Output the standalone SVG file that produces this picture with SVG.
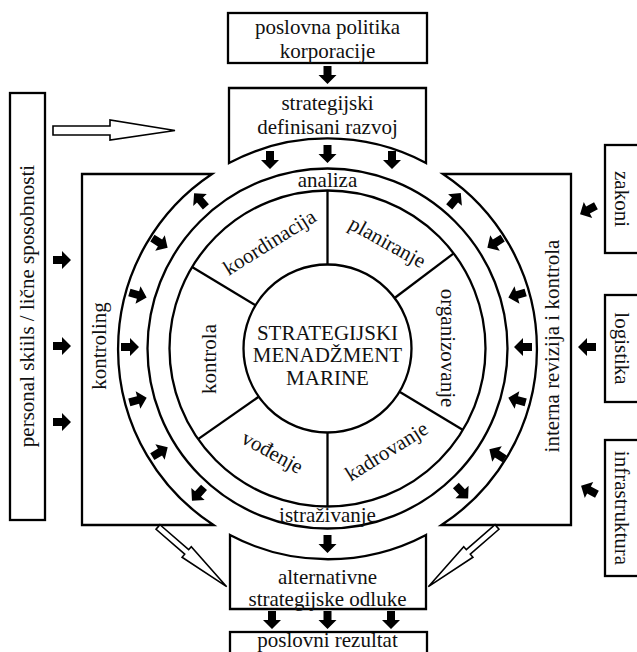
<svg xmlns="http://www.w3.org/2000/svg" xmlns:xlink="http://www.w3.org/1999/xlink" width="637" height="652" viewBox="0 0 637 652">
<style>
.b{fill:#fff;stroke:#000;stroke-width:2.3}
.l{fill:none;stroke:#000;stroke-width:2.3}
.h{fill:#fff;stroke:#000;stroke-width:1.6}
text{font-family:"Liberation Serif","Times New Roman",serif;font-size:21px;fill:#111;text-anchor:middle}
.a{fill:#000}
</style>
<defs>
<path id="ba" d="M-9,-4 H0 V-9 L9,0 L0,9 V4 H-9 Z"/>
</defs>
<rect width="637" height="652" fill="#fff"/>

<g id="n-poslovna-politika">
<rect class="b" x="228" y="13" width="199" height="50"/>
<text x="327.5" y="34">poslovna politika</text>
<text x="327.5" y="57.5">korporacije</text>
</g>

<g id="n-strategijski-razvoj">
<path class="b" d="M229,88 H426 V163 A210,210 0 0 0 229,163 Z"/>
<text x="327.5" y="110">strategijski</text>
<text x="327.5" y="133.5">definisani razvoj</text>
</g>

<g id="n-personal">
<rect class="b" x="10" y="93" width="35" height="427"/>
<text transform="translate(28,306) rotate(-90)" y="6">personal skiils / lične sposobnosti</text>
</g>

<g id="n-kontroling">
<path class="b" d="M212,174 H82 V525 H213.5 A210,210 0 0 1 212,174 Z"/>
<text transform="translate(100,346) rotate(-90)" y="6">kontroling</text>
</g>

<g id="n-interna">
<path class="b" d="M443,174 H571 V525 H441.5 A210,210 0 0 0 443,174 Z"/>
<text transform="translate(553,346) rotate(-90)" y="6">interna revizija i kontrola</text>
</g>

<g id="n-zakoni">
<rect class="b" x="605" y="145" width="40" height="108"/>
<text transform="translate(621,199) rotate(90)" y="6">zakoni</text>
</g>
<g id="n-logistika">
<rect class="b" x="605" y="295" width="40" height="107"/>
<text transform="translate(621,348.5) rotate(90)" y="6">logistika</text>
</g>
<g id="n-infrastruktura">
<rect class="b" x="605" y="440" width="40" height="136"/>
<text transform="translate(621,508) rotate(90)" y="6">infrastruktura</text>
</g>

<g id="n-ring">
<circle class="l" cx="327.5" cy="348.5" r="180"/>
<text x="327.5" y="187">analiza</text>
<text x="327.5" y="522">istraživanje</text>
</g>

<g id="n-segments">
<circle class="l" cx="327.5" cy="348.5" r="158"/>
<line class="l" x1="327.5" y1="264.5" x2="327.5" y2="190.5"/>
<line class="l" x1="394.6" y1="298" x2="453.7" y2="253.4"/>
<line class="l" x1="399.5" y1="391.8" x2="463" y2="429.9"/>
<line class="l" x1="327.5" y1="432.5" x2="327.5" y2="506.5"/>
<line class="l" x1="258.7" y1="396.7" x2="198.1" y2="439.1"/>
<line class="l" x1="255.5" y1="305.2" x2="192.1" y2="267.1"/>
<text transform="translate(270,243) rotate(-32)" y="6">koordinacija</text>
<text transform="translate(387,243) rotate(29)" y="6">planiranje</text>
<text transform="translate(447,348) rotate(90)" y="6">organizovanje</text>
<text transform="translate(387,452) rotate(-32)" y="6">kadrovanje</text>
<text transform="translate(272,453) rotate(29)" y="6">vođenje</text>
<text transform="translate(210,359) rotate(-90)" y="6">kontrola</text>
</g>

<g id="n-center">
<circle class="b" cx="327.5" cy="348.5" r="84"/>
<text x="327.5" y="340">STRATEGIJSKI</text>
<text x="327.5" y="362">MENADŽMENT</text>
<text x="327.5" y="385">MARINE</text>
</g>

<g id="n-alternativne">
<path class="b" d="M230,535 A210,210 0 0 0 426,535 V609 H230 Z"/>
<text x="327.5" y="583.5">alternativne</text>
<text x="327.5" y="606">strategijske odluke</text>
</g>

<g id="n-poslovni-rezultat">
<rect class="b" x="230" y="632" width="197" height="30"/>
<text x="327.5" y="647">poslovni rezultat</text>
</g>

<g id="connectors">
<path class="h" d="M53,126 H110 V120 L175,130.5 L110,140 V135 H53 Z"/>
<path class="h" transform="translate(158,527) rotate(41)" d="M0,-3 H38 V-7 L91,0 L38,7 V3 H0 Z"/>
<path class="h" transform="translate(497,527) rotate(139)" d="M0,-3 H38 V-7 L91,0 L38,7 V3 H0 Z"/>
<g class="a">
<use xlink:href="#ba" transform="translate(327.5,75) rotate(90)"/>
<use xlink:href="#ba" transform="translate(270,160) rotate(90)"/>
<use xlink:href="#ba" transform="translate(327.5,154) rotate(90)"/>
<use xlink:href="#ba" transform="translate(392,160) rotate(90)"/>
<use xlink:href="#ba" transform="translate(327.5,544) rotate(90)"/>
<use xlink:href="#ba" transform="translate(272,620) rotate(90)"/>
<use xlink:href="#ba" transform="translate(327.5,620) rotate(90)"/>
<use xlink:href="#ba" transform="translate(391,620) rotate(90)"/>
<use xlink:href="#ba" transform="translate(62,260)"/>
<use xlink:href="#ba" transform="translate(62,346)"/>
<use xlink:href="#ba" transform="translate(62,422)"/>
<use xlink:href="#ba" transform="translate(200,200) rotate(-131)"/>
<use xlink:href="#ba" transform="translate(160,243) rotate(32)"/>
<use xlink:href="#ba" transform="translate(138,295) rotate(16)"/>
<use xlink:href="#ba" transform="translate(130,347)"/>
<use xlink:href="#ba" transform="translate(138,400) rotate(-15)"/>
<use xlink:href="#ba" transform="translate(160,452) rotate(-31)"/>
<use xlink:href="#ba" transform="translate(198,494) rotate(132)"/>
<use xlink:href="#ba" transform="translate(455,200) rotate(-50)"/>
<use xlink:href="#ba" transform="translate(495,243) rotate(148)"/>
<use xlink:href="#ba" transform="translate(517,295) rotate(164)"/>
<use xlink:href="#ba" transform="translate(523,347) rotate(180)"/>
<use xlink:href="#ba" transform="translate(517,400) rotate(-165)"/>
<use xlink:href="#ba" transform="translate(497,454) rotate(-148)"/>
<use xlink:href="#ba" transform="translate(462,492) rotate(47)"/>
<use xlink:href="#ba" transform="translate(588,210) rotate(152)"/>
<use xlink:href="#ba" transform="translate(587,347) rotate(180)"/>
<use xlink:href="#ba" transform="translate(589,490) rotate(-152)"/>
</g>
</g>
</svg>
